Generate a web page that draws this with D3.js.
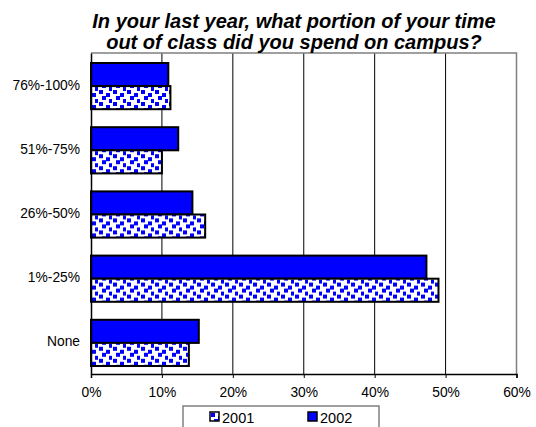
<!DOCTYPE html>
<html>
<head>
<meta charset="utf-8">
<script src="https://cdn.jsdelivr.net/npm/d3@7"></script>
<style>
  body { margin: 0; background: #fff; }
  text { font-family: Arial, "Liberation Sans", sans-serif; }
</style>
</head>
<body>
<div id="chart"></div>
<script>
const categories = ['76%-100%', '51%-75%', '26%-50%', '1%-25%', 'None'];
const seriesNames = ['2001', '2002'];
const values2001 = [11.2, 10.0, 16.1, 49.0, 13.8];
const values2002 = [10.9, 12.3, 14.3, 47.3, 15.2];
const xTicks = [0, 10, 20, 30, 40, 50, 60];
const titleLines = ['In your last year, what portion of your time', 'out of class did you spend on campus?'];

const width = 536, height = 427;
const plot = {left: 91, right: 516.5, top: 53, bottom: 374};

const svg = d3.select('#chart').append('svg')
  .attr('width', width)
  .attr('height', height);

// confetti-like pattern for 2001
const defs = svg.append('defs');
const pat = defs.append('pattern')
  .attr('id', 'dots')
  .attr('patternUnits', 'userSpaceOnUse')
  .attr('width', 14).attr('height', 12);
pat.append('rect').attr('width', 14).attr('height', 12).attr('fill', '#fff');
[[1, 1], [8, 4], [4, 7], [11, 10], [11, -2]].forEach(p => {
  pat.append('rect').attr('x', p[0]).attr('y', p[1])
    .attr('width', 4).attr('height', 4).attr('fill', '#0000ff');
});

const x = d3.scaleLinear().domain([0, 60]).range([plot.left, plot.right]);
const y = d3.scaleBand().domain(categories).range([plot.top, plot.bottom]).padding(0);
const sub = d3.scaleBand().domain(['2002', '2001']).range([10, y.bandwidth() - 8]);

// gridlines
svg.append('g').selectAll('line')
  .data(xTicks.filter(t => t > 0 && t < 60))
  .enter().append('line')
  .attr('x1', d => x(d)).attr('x2', d => x(d))
  .attr('y1', plot.top).attr('y2', plot.bottom)
  .attr('stroke', '#000').attr('stroke-width', 1);

// plot frame (top + right gray)
svg.append('path')
  .attr('d', `M${plot.left},${plot.top}H${plot.right}V${plot.bottom}`)
  .attr('fill', 'none').attr('stroke', '#808080').attr('stroke-width', 1.5);

// bars
const rows = categories.map((c, i) => ({cat: c, v2001: values2001[i], v2002: values2002[i]}));
const groups = svg.append('g').selectAll('g')
  .data(rows).enter().append('g')
  .attr('transform', d => `translate(0,${y(d.cat)})`);

groups.append('rect')
  .attr('x', x(0))
  .attr('y', sub('2002'))
  .attr('width', d => x(d.v2002) - x(0))
  .attr('height', sub.bandwidth())
  .attr('fill', '#0000ff')
  .attr('stroke', '#000').attr('stroke-width', 2);

groups.append('rect')
  .attr('x', x(0))
  .attr('y', sub('2001'))
  .attr('width', d => x(d.v2001) - x(0))
  .attr('height', sub.bandwidth())
  .attr('fill', 'url(#dots)')
  .attr('stroke', '#000').attr('stroke-width', 2);

// x axis
const xAxis = svg.append('g')
  .attr('transform', `translate(0,${plot.bottom})`)
  .call(d3.axisBottom(x).tickValues(xTicks).tickFormat(d => d + '%').tickSize(4).tickPadding(9));
xAxis.select('.domain').attr('stroke', '#000').attr('stroke-width', 1.5);
xAxis.selectAll('line').attr('stroke', '#000');
xAxis.selectAll('text').attr('font-size', '13.8px').attr('fill', '#000')
  .style('font-family', 'Arial, "Liberation Sans", sans-serif');

// y axis
const yAxis = svg.append('g')
  .attr('transform', `translate(${plot.left},0)`)
  .call(d3.axisLeft(y).tickSize(0).tickPadding(11));
yAxis.select('.domain').attr('stroke', '#000').attr('stroke-width', 1.5);
yAxis.selectAll('text').attr('font-size', '13.8px').attr('fill', '#000')
  .style('font-family', 'Arial, "Liberation Sans", sans-serif');

// title
svg.append('g').selectAll('text')
  .data(titleLines).enter().append('text')
  .attr('x', 294)
  .attr('y', (d, i) => 28 + i * 21)
  .attr('text-anchor', 'middle')
  .attr('font-size', '20px')
  .attr('font-weight', 'bold')
  .attr('font-style', 'italic')
  .text(d => d);

// legend
const legend = svg.append('g');
legend.append('rect')
  .attr('x', 183).attr('y', 406)
  .attr('width', 196).attr('height', 40)
  .attr('fill', '#fff').attr('stroke', '#808080').attr('stroke-width', 1.5);
const legendX = d3.scalePoint().domain(seriesNames).range([210, 308]);
const items = legend.selectAll('g.item')
  .data(seriesNames).enter().append('g')
  .attr('class', 'item')
  .attr('transform', d => `translate(${legendX(d)},412)`);
items.append('rect')
  .attr('width', 9).attr('height', 9)
  .attr('fill', d => d === '2001' ? 'url(#dots)' : '#0000ff')
  .attr('stroke', '#000').attr('stroke-width', 1.5);
items.append('text')
  .attr('x', 12).attr('y', 10.5)
  .attr('font-size', '14.5px')
  .text(d => d);
</script>
</body>
</html>
